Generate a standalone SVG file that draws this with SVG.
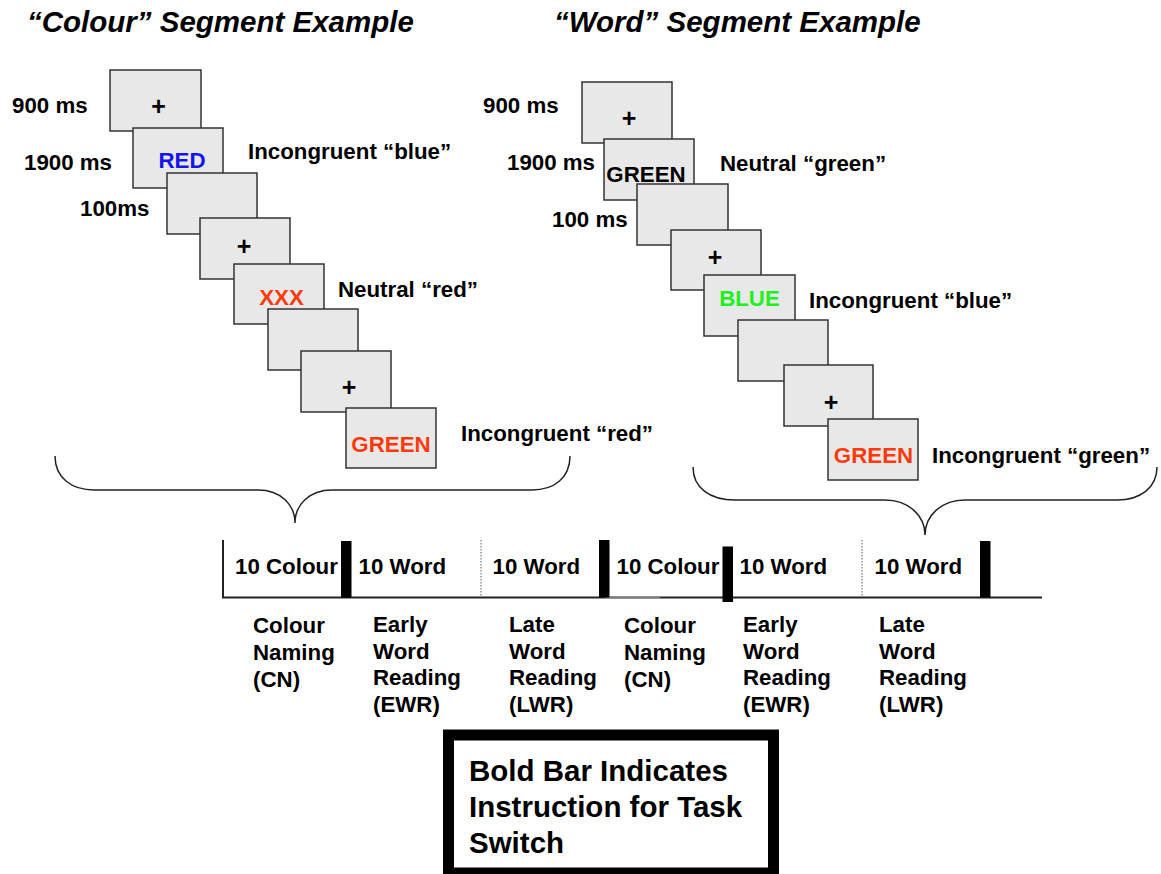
<svg xmlns="http://www.w3.org/2000/svg" width="1161" height="874" viewBox="0 0 1161 874">
  <style>
    text { font-family: "Liberation Sans", Arial, Helvetica, sans-serif; font-weight: bold; fill: #000; }
    .title { font-size: 29.5px; font-style: italic; }
    .lbl { font-size: 22.3px; }
    .stim { font-size: 22.3px; text-anchor: middle; }
    .fix { font-size: 25px; text-anchor: middle; }
    .note { font-size: 29.5px; }
    .screen { fill: #e8e8e8; stroke: #333; stroke-width: 1.5; }
    .brace { fill: none; stroke: #222; stroke-width: 1.5; }
    .axis { fill: none; stroke: #222; stroke-width: 2; }
    .dots { stroke: #777; stroke-width: 1.2; stroke-dasharray: 1.5 1.5; }
    .bar { fill: #000; }
    .blue { fill: #1414f0; }
    .red { fill: #ff3a0a; }
    .green { fill: #20f020; }
  </style>

  <!-- panel titles -->
  <text id="title-colour" class="title" x="27" y="32">“Colour” Segment Example</text>
  <text id="title-word" class="title" x="554" y="32">“Word” Segment Example</text>

  <!-- colour segment: stacked trial screens -->
  <g id="colour-seq">
    <g id="c1"><rect class="screen" x="110" y="70" width="91" height="61"/><text class="fix" x="158.5" y="114.5">+</text></g>
    <g id="c2"><rect class="screen" x="133" y="128" width="90" height="60"/><text class="stim blue" x="182" y="168">RED</text></g>
    <g id="c3"><rect class="screen" x="167" y="173" width="90" height="61"/></g>
    <g id="c4"><rect class="screen" x="200" y="218" width="90" height="61"/><text class="fix" x="244" y="255">+</text></g>
    <g id="c5"><rect class="screen" x="234" y="264" width="90" height="60"/><text class="stim red" x="281.5" y="305">XXX</text></g>
    <g id="c6"><rect class="screen" x="268" y="309" width="90" height="61"/></g>
    <g id="c7"><rect class="screen" x="301" y="351" width="90" height="61"/><text class="fix" x="349" y="395.5">+</text></g>
    <g id="c8"><rect class="screen" x="346" y="408" width="90" height="60"/><text class="stim red" x="391" y="452">GREEN</text></g>
  </g>
  <g id="colour-labels">
    <text class="lbl" x="12" y="113">900 ms</text>
    <text class="lbl" x="24" y="170">1900 ms</text>
    <text class="lbl" x="80" y="216">100ms</text>
    <text class="lbl" x="248" y="159">Incongruent “blue”</text>
    <text class="lbl" x="338" y="297">Neutral “red”</text>
    <text class="lbl" x="461" y="441">Incongruent “red”</text>
  </g>

  <!-- word segment: stacked trial screens -->
  <g id="word-seq">
    <g id="w1"><rect class="screen" x="582" y="82" width="90" height="61"/><text class="fix" x="629" y="127">+</text></g>
    <g id="w2"><rect class="screen" x="604" y="139" width="90" height="61"/><text class="stim" x="646" y="182">GREEN</text></g>
    <g id="w3"><rect class="screen" x="637" y="184" width="91" height="61"/></g>
    <g id="w4"><rect class="screen" x="671" y="230" width="90" height="60"/><text class="fix" x="715" y="265.5">+</text></g>
    <g id="w5"><rect class="screen" x="704" y="275" width="91" height="61"/><text class="stim green" x="749.5" y="306">BLUE</text></g>
    <g id="w6"><rect class="screen" x="738" y="320" width="90" height="61"/></g>
    <g id="w7"><rect class="screen" x="784" y="365" width="89" height="61"/><text class="fix" x="831" y="410.5">+</text></g>
    <g id="w8"><rect class="screen" x="828" y="419" width="90" height="61"/><text class="stim red" x="873.5" y="463">GREEN</text></g>
  </g>
  <g id="word-labels">
    <text class="lbl" x="483" y="113">900 ms</text>
    <text class="lbl" x="507" y="170">1900 ms</text>
    <text class="lbl" x="552" y="227">100 ms</text>
    <text class="lbl" x="720" y="171">Neutral “green”</text>
    <text class="lbl" x="809" y="308">Incongruent “blue”</text>
    <text class="lbl" x="932" y="463">Incongruent “green”</text>
  </g>

  <!-- braces linking each example to its block on the timeline -->
  <g id="connectors">
    <path class="brace" d="M55,456 C55,478 72,490 94,490 L258,490 C281,490 295,505 295,523 C295,505 309,490 332,490 L532,490 C554,490 570,478 570,456"/>
    <path class="brace" d="M693,467 C693,488 710,500 735,500 L885,500 C909,500 925,516 925,535 C925,516 941,500 965,500 L1117,500 C1140,500 1157,488 1157,467"/>
  </g>

  <!-- block timeline -->
  <g id="timeline">
    <path class="axis" d="M223,540 L223,597.5 L1042,597.5"/>
    <line x1="605" y1="598" x2="660" y2="598" stroke="#999" stroke-width="1.5"/>
    <line class="dots" x1="481" y1="540" x2="481" y2="597"/>
    <line class="dots" x1="862" y1="540" x2="862" y2="597"/>
    <rect class="bar" x="341" y="541" width="10.5" height="56.5"/>
    <rect class="bar" x="599" y="540" width="10.5" height="57.5"/>
    <rect class="bar" x="722.5" y="546.5" width="10.5" height="55.5"/>
    <rect class="bar" x="980" y="541" width="10.5" height="56.5"/>
    <text class="lbl" x="235" y="574">10 Colour</text>
    <text class="lbl" x="358.5" y="574">10 Word</text>
    <text class="lbl" x="492.5" y="574">10 Word</text>
    <text class="lbl" x="616.5" y="574">10 Colour</text>
    <text class="lbl" x="739.5" y="574">10 Word</text>
    <text class="lbl" x="874.5" y="574">10 Word</text>
  </g>

  <!-- condition names under each block -->
  <g id="conditions">
    <text class="lbl" x="253" y="633"><tspan x="253">Colour</tspan><tspan x="253" dy="27">Naming</tspan><tspan x="253" dy="27">(CN)</tspan></text>
    <text class="lbl" x="373" y="632"><tspan x="373">Early</tspan><tspan x="373" dy="26.7">Word</tspan><tspan x="373" dy="26.7">Reading</tspan><tspan x="373" dy="26.7">(EWR)</tspan></text>
    <text class="lbl" x="509" y="632"><tspan x="509">Late</tspan><tspan x="509" dy="26.7">Word</tspan><tspan x="509" dy="26.7">Reading</tspan><tspan x="509" dy="26.7">(LWR)</tspan></text>
    <text class="lbl" x="624" y="633"><tspan x="624">Colour</tspan><tspan x="624" dy="27">Naming</tspan><tspan x="624" dy="27">(CN)</tspan></text>
    <text class="lbl" x="743" y="632"><tspan x="743">Early</tspan><tspan x="743" dy="26.7">Word</tspan><tspan x="743" dy="26.7">Reading</tspan><tspan x="743" dy="26.7">(EWR)</tspan></text>
    <text class="lbl" x="879" y="632"><tspan x="879">Late</tspan><tspan x="879" dy="26.7">Word</tspan><tspan x="879" dy="26.7">Reading</tspan><tspan x="879" dy="26.7">(LWR)</tspan></text>
  </g>

  <!-- legend box -->
  <g id="legend">
    <rect x="448.5" y="735" width="325" height="138" fill="#fff" stroke="#000" stroke-width="11"/>
    <text class="note" x="469" y="781">Bold Bar Indicates</text>
    <text class="note" x="469" y="817">Instruction for Task</text>
    <text class="note" x="469" y="853">Switch</text>
  </g>
</svg>
